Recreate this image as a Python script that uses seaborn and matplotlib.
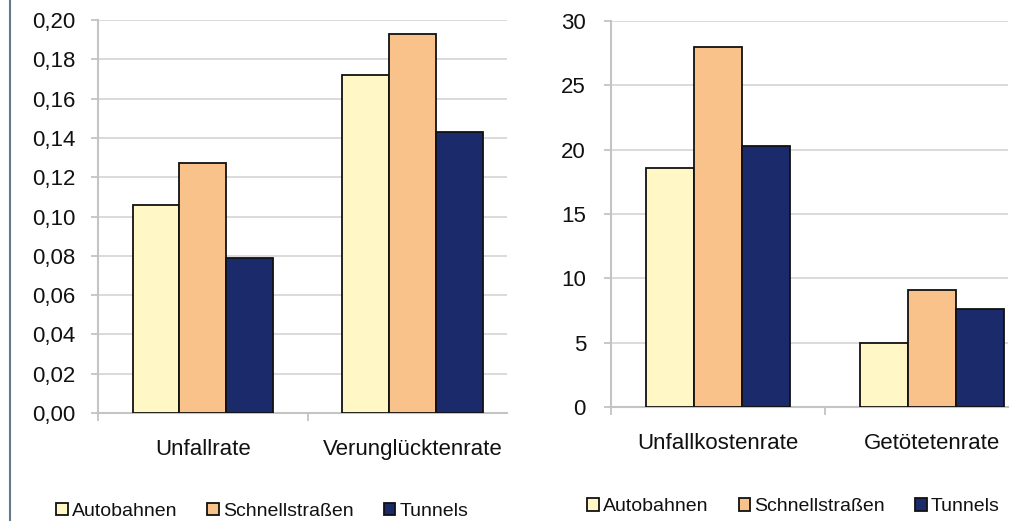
import numpy as np
import pandas as pd
import matplotlib
matplotlib.use("Agg")
import matplotlib.pyplot as plt
from matplotlib.ticker import FuncFormatter, FixedLocator
from matplotlib.lines import Line2D
from matplotlib.patches import Patch
import seaborn as sns

series = ["Autobahnen", "Schnellstraßen", "Tunnels"]
colors = ["#FFF7C6", "#F8C28A", "#1B2A6B"]

left_categories = ["Unfallrate", "Verunglücktenrate"]
left_autobahnen = [0.106, 0.172]
left_schnell = [0.127, 0.193]
left_tunnels = [0.079, 0.143]

right_categories = ["Unfallkostenrate", "Getötetenrate"]
right_autobahnen = [18.6, 5.0]
right_schnell = [28.0, 9.1]
right_tunnels = [20.3, 7.6]

left_ticks = [0.00, 0.02, 0.04, 0.06, 0.08, 0.10, 0.12, 0.14, 0.16, 0.18, 0.20]
right_ticks = [0, 5, 10, 15, 20, 25, 30]


def make_df(cats, a, s, t):
    rows = []
    for name, vals in zip(series, [a, s, t]):
        for c, v in zip(cats, vals):
            rows.append({"Kategorie": c, "Typ": name, "Wert": v})
    return pd.DataFrame(rows)


sns.set_theme(style="white")
plt.rcParams["font.family"] = ["Liberation Sans", "DejaVu Sans"]
text_color = "#111111"

fig = plt.figure(figsize=(10.12, 5.21), dpi=100)
ax1 = fig.add_axes([0.0968, 0.2073, 0.404, 0.7543])
ax2 = fig.add_axes([0.6037, 0.2188, 0.3923, 0.7409])

setups = [
    (ax1, make_df(left_categories, left_autobahnen, left_schnell, left_tunnels),
     left_categories, left_ticks, (0, 0.20), 1.448, 11, 19,
     FuncFormatter(lambda v, p: f"{v:.2f}".replace(".", ","))),
    (ax2, make_df(right_categories, right_autobahnen, right_schnell, right_tunnels),
     right_categories, right_ticks, (0, 30), 1.355, 13, 19,
     FuncFormatter(lambda v, p: f"{v:.0f}")),
]

for ax, df, cats, ticks, ylim, xmax, ypad, xpad, fmt in setups:
    sns.barplot(data=df, x="Kategorie", y="Wert", hue="Typ", order=cats,
                hue_order=series, palette=colors, width=0.67, saturation=1,
                edgecolor="#111111", linewidth=1.3, legend=False, ax=ax, zorder=3)
    ax.set_xlim(-0.5, xmax)
    ax.set_ylim(*ylim)
    ax.set_yticks(ticks)
    ax.yaxis.set_major_formatter(fmt)
    ax.grid(axis="y", color="#d4d4d4", linewidth=1.2, zorder=0)
    ax.set_axisbelow(True)
    for side in ["top", "right"]:
        ax.spines[side].set_visible(False)
    for side in ["left", "bottom"]:
        ax.spines[side].set_color("#c4c4c4")
        ax.spines[side].set_linewidth(1.5)
    ax.set_xlabel("")
    ax.set_ylabel("")
    ax.tick_params(axis="y", which="major", length=5, width=1.3, color="#c4c4c4",
                   labelsize=16, labelcolor=text_color, pad=ypad, direction="out", left=True)
    ax.tick_params(axis="x", which="major", length=0, labelsize=16,
                   labelcolor=text_color, pad=xpad)
    ax.xaxis.set_minor_locator(FixedLocator([-0.5, 0.5]))
    ax.tick_params(axis="x", which="minor", length=6, width=1.3, color="#c4c4c4",
                   direction="out", bottom=True)
    for lab in ax.get_xticklabels() + ax.get_yticklabels():
        lab.set_color(text_color)

handles = [Patch(facecolor=c, edgecolor="#111111", linewidth=1.3, label=s)
           for c, s in zip(colors, series)]
for cx, cy in [(0.259, 0.019), (0.784, 0.027)]:
    fig.legend(handles=handles, loc="center", bbox_to_anchor=(cx, cy), ncol=3,
               frameon=False, fontsize=14, handlelength=0.6, handleheight=0.6,
               handletextpad=0.2, columnspacing=1.55, labelcolor=text_color,
               borderaxespad=0, borderpad=0)

fig.add_artist(Line2D([10 / 1012, 10 / 1012], [0, 1], transform=fig.transFigure,
                      color="#66788c", linewidth=1.5))

fig.savefig("out.png", dpi=100)
